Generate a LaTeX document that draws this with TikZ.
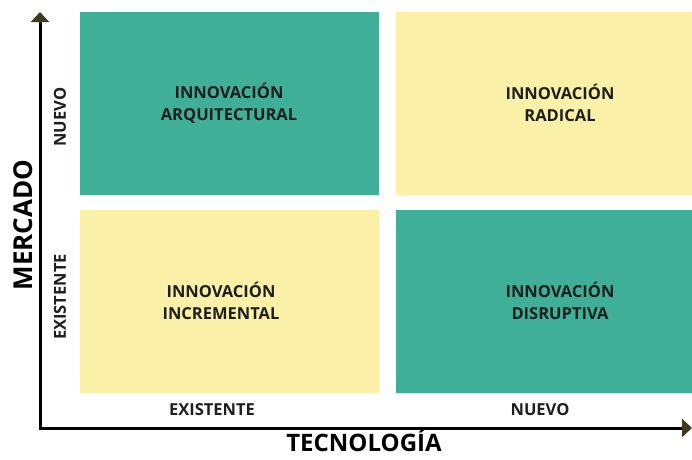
\documentclass[tikz,border=0pt]{standalone}
\usepackage{fontspec}
\setmainfont{Open Sans}
\usetikzlibrary{arrows.meta}
\definecolor{teal1}{HTML}{3FAF98}
\definecolor{yel1}{HTML}{FBF0A8}
\definecolor{txt}{HTML}{1E1E1E}
\definecolor{tipc}{HTML}{3F3B1C}
\begin{document}
\begin{tikzpicture}[x=1pt,y=-1pt,
  quad/.style={draw=none,inner sep=0pt,minimum width=299pt,minimum height=183pt,anchor=north west},
  qlabel/.style={text=txt,font=\fontsize{16.5}{22}\selectfont\bfseries,align=center},
  ticklabel/.style={text=txt,font=\fontsize{16.5}{18}\selectfont\bfseries},
  axlabel/.style={text=black,inner sep=0pt,font=\fontsize{24}{28}\selectfont\bfseries},
  axisline/.style={line width=3pt,draw=black,-{Triangle[width=18pt,length=10pt,color=tipc]}}]
\useasboundingbox (0,0) rectangle (692,459);
\node[quad,fill=teal1] (q1) at (80,12) {};
\node[quad,fill=yel1,minimum width=297pt] (q2) at (396,12) {};
\node[quad,fill=yel1] (q3) at (80,210) {};
\node[quad,fill=teal1,minimum width=297pt] (q4) at (396,210) {};
\node[qlabel] (t1) at (229,103) {INNOVACIÓN\\ARQUITECTURAL};
\node[qlabel] (t2) at (560,103) {INNOVACIÓN\\RADICAL};
\node[qlabel] (t3) at (221,301) {INNOVACIÓN\\INCREMENTAL};
\node[qlabel] (t4) at (560,301) {INNOVACIÓN\\DISRUPTIVA};
\coordinate (o) at (40,428);
\coordinate (ytop) at (40,12);
\coordinate (xend) at (692,428);
\draw[axisline] (o) -- (ytop);
\draw[axisline] ([xshift=-1.5pt]o) -- (xend);
\node[ticklabel,rotate=90] (yn) at (60,117) {NUEVO};
\node[ticklabel,rotate=90] (ye) at (60,297) {EXISTENTE};
\node[ticklabel] (xe) at (212,410) {EXISTENTE};
\node[ticklabel] (xn) at (540,410) {NUEVO};
\node[axlabel,font=\fontsize{26}{30}\selectfont\bfseries,rotate=90] (ml) at (23,225) {MERCADO};
\node[axlabel,text depth=0pt,anchor=base] (tl) at (364,451) {TECNOLOGÍA};
\end{tikzpicture}
\end{document}
